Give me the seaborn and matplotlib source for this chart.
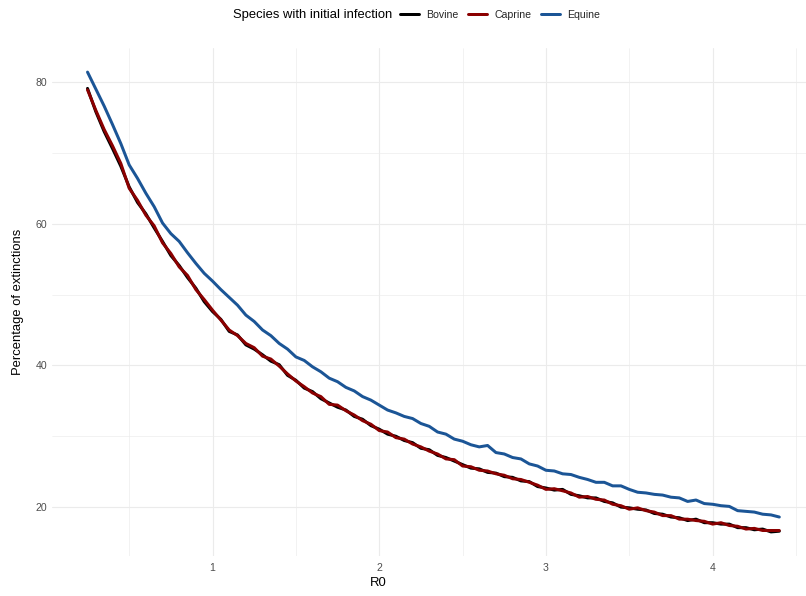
import numpy as np
import pandas as pd
import matplotlib
matplotlib.use("Agg")
import matplotlib.pyplot as plt
import seaborn as sns
from matplotlib.lines import Line2D

r0 = [0.25, 0.30, 0.35, 0.40, 0.45, 0.50, 0.55, 0.60, 0.65, 0.70, 0.75, 0.80, 0.85, 0.90, 0.95,
      1.00, 1.05, 1.10, 1.15, 1.20, 1.25, 1.30, 1.35, 1.40, 1.45, 1.50, 1.55, 1.60, 1.65, 1.70,
      1.75, 1.80, 1.85, 1.90, 1.95, 2.00, 2.05, 2.10, 2.15, 2.20, 2.25, 2.30, 2.35, 2.40, 2.45,
      2.50, 2.55, 2.60, 2.65, 2.70, 2.75, 2.80, 2.85, 2.90, 2.95, 3.00, 3.05, 3.10, 3.15, 3.20,
      3.25, 3.30, 3.35, 3.40, 3.45, 3.50, 3.55, 3.60, 3.65, 3.70, 3.75, 3.80, 3.85, 3.90, 3.95,
      4.00, 4.05, 4.10, 4.15, 4.20, 4.25, 4.30, 4.35, 4.40]

equine = [81.4, 79.0, 76.6, 74.0, 71.3, 68.3, 66.4, 64.3, 62.4, 60.1, 58.6, 57.5, 55.9, 54.4, 53.0,
          51.9, 50.7, 49.6, 48.5, 47.1, 46.2, 45.0, 44.2, 43.1, 42.3, 41.2, 40.7, 39.8, 39.1, 38.2,
          37.7, 36.9, 36.4, 35.6, 35.1, 34.4, 33.7, 33.3, 32.8, 32.5, 31.8, 31.4, 30.6, 30.3, 29.6,
          29.3, 28.8, 28.5, 28.7, 27.7, 27.5, 27.0, 26.8, 26.1, 25.8, 25.2, 25.1, 24.7, 24.6, 24.2,
          23.9, 23.5, 23.5, 23.0, 23.0, 22.5, 22.1, 22.0, 21.8, 21.7, 21.4, 21.3, 20.8, 21.0, 20.5,
          20.4, 20.2, 20.1, 19.5, 19.4, 19.3, 19.0, 18.9, 18.6]

caprine = [78.9, 76.0, 73.3, 71.0, 68.5, 65.0, 63.3, 61.2, 59.7, 57.3, 55.8, 53.9, 52.7, 50.7, 49.3,
           47.8, 46.4, 45.0, 44.2, 43.1, 42.5, 41.3, 40.9, 39.9, 38.8, 37.8, 37.0, 36.1, 35.6, 34.5,
           34.4, 33.6, 33.0, 32.2, 31.7, 30.8, 30.6, 29.8, 29.6, 28.9, 28.5, 27.9, 27.5, 26.8, 26.7,
           25.8, 25.7, 25.2, 25.1, 24.7, 24.5, 24.0, 23.9, 23.5, 23.1, 22.5, 22.6, 22.3, 22.0, 21.4,
           21.5, 21.1, 21.0, 20.4, 20.2, 19.7, 19.9, 19.5, 19.3, 18.8, 18.8, 18.3, 18.3, 18.1, 18.0,
           17.6, 17.8, 17.4, 17.3, 16.9, 17.0, 16.7, 16.7, 16.7]

bovine = [79.1, 75.8, 73.0, 70.6, 68.1, 65.2, 63.0, 61.4, 59.4, 57.5, 55.5, 54.1, 52.4, 50.9, 49.0,
          47.6, 46.5, 44.8, 44.3, 42.9, 42.3, 41.5, 40.6, 40.1, 38.6, 37.9, 36.8, 36.3, 35.3, 34.7,
          34.1, 33.7, 32.8, 32.4, 31.5, 31.0, 30.3, 30.0, 29.4, 29.1, 28.3, 28.1, 27.3, 27.0, 26.5,
          26.0, 25.5, 25.4, 24.9, 24.8, 24.3, 24.2, 23.7, 23.6, 22.9, 22.7, 22.4, 22.5, 21.8, 21.6,
          21.3, 21.3, 20.8, 20.6, 20.0, 19.9, 19.7, 19.6, 19.1, 19.0, 18.6, 18.5, 18.1, 18.3, 17.8,
          17.8, 17.6, 17.6, 17.1, 17.1, 16.8, 16.9, 16.5, 16.6]

species = ["Bovine", "Caprine", "Equine"]
colors = {"Bovine": "#000000", "Caprine": "#8B0000", "Equine": "#1B5596"}

df = pd.concat([
    pd.DataFrame({"R0": r0, "pct": bovine, "Species": "Bovine"}),
    pd.DataFrame({"R0": r0, "pct": caprine, "Species": "Caprine"}),
    pd.DataFrame({"R0": r0, "pct": equine, "Species": "Equine"}),
])

sns.set_theme(style="white")
plt.rcParams["font.family"] = ["Liberation Sans", "DejaVu Sans"]

W, H = 806, 596
DPI = 72
fig = plt.figure(figsize=(W / DPI, H / DPI), dpi=DPI)
ax = fig.add_axes([52 / W, (H - 556) / H, (806 - 52) / W, (556 - 48) / H])

sns.lineplot(data=df, x="R0", y="pct", hue="Species", hue_order=species,
             palette=colors, linewidth=3.0, ax=ax, legend=False, sort=False)

ax.set_xlim(0.037, 4.56)
ax.set_ylim(13.1, 84.8)
ax.set_xticks([1, 2, 3, 4])
ax.set_xticks([0.5, 1.5, 2.5, 3.5, 4.5], minor=True)
ax.set_yticks([20, 40, 60, 80])
ax.set_yticks([30, 50, 70], minor=True)
ax.grid(which="major", color="#EBEBEB", linewidth=1.1)
ax.grid(which="minor", color="#EBEBEB", linewidth=0.6)
ax.set_axisbelow(True)
for s in ax.spines.values():
    s.set_visible(False)
ax.tick_params(which="both", length=0, labelsize=10.5, labelcolor="#4D4D4D")
ax.tick_params(axis="x", pad=7)
ax.tick_params(axis="y", pad=5)
ax.set_xlabel("R0", fontsize=13, color="black")
ax.set_ylabel("Percentage of extinctions", fontsize=13, color="black")
ax.xaxis.set_label_coords((378 - 52) / (806 - 52), -(583 - 556) / (556 - 48))
ax.yaxis.set_label_coords(-(52 - 18) / (806 - 52), 0.5)
ax.xaxis.label.set_va("center")
ax.yaxis.label.set_va("center")

fig.text(233 / W, 1 - 15 / H, "Species with initial infection", fontsize=13,
         ha="left", va="center", color="black")
handles = [Line2D([0], [0], color=colors[s], lw=3.0) for s in species]
fig.legend(handles, species, loc="center left", bbox_to_anchor=(398 / W, 1 - 15 / H),
           ncol=3, frameon=False, fontsize=10.5, handlelength=1.8, handletextpad=0.7,
           columnspacing=0.9, borderaxespad=0, borderpad=0.2)

fig.savefig("out.png", dpi=DPI, facecolor="white")
